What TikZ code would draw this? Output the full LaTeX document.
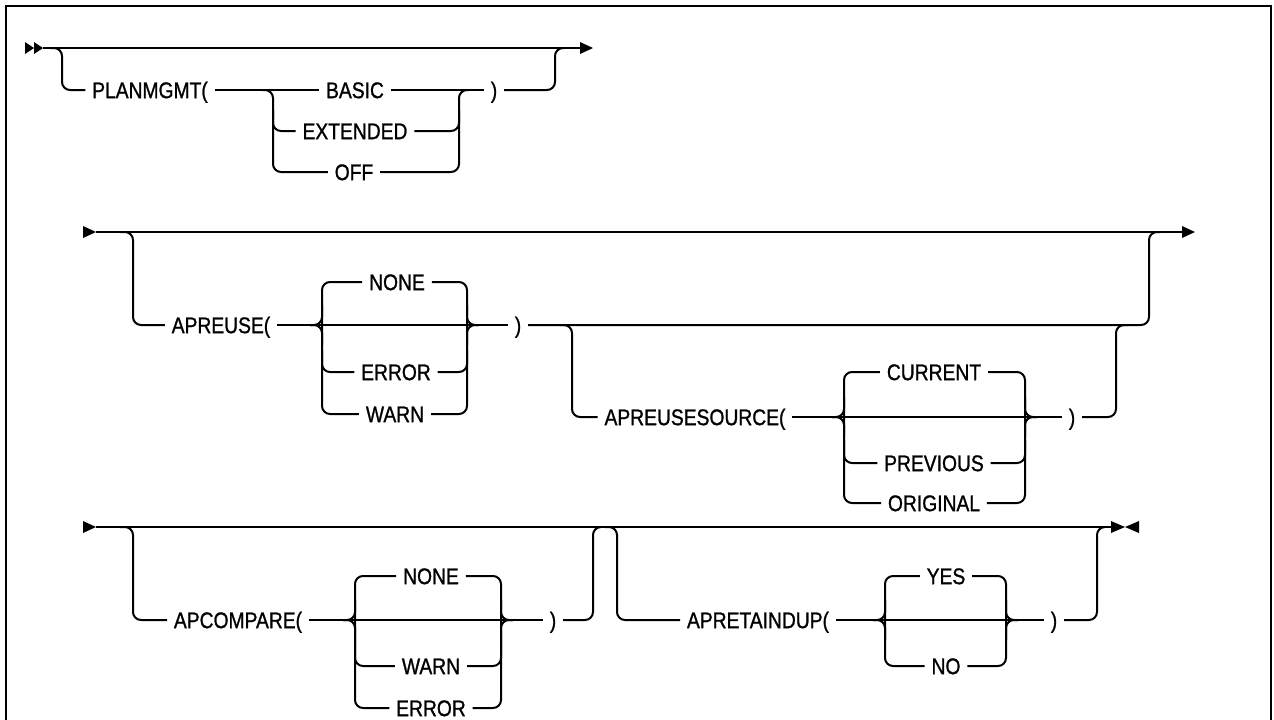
\documentclass[tikz,border=0pt]{standalone}
\usepackage{fontspec}
\setmainfont{Liberation Sans}[FakeStretch=0.85, FakeBold=1.0]
\begin{document}
\begin{tikzpicture}[x=0.75pt,y=-0.75pt,
  rail/.style={line width=1.5pt, rounded corners=6pt},
  lbl/.style={inner xsep=5pt, inner ysep=0pt, text height=12.2pt, text depth=0pt, font=\fontsize{17}{19}\selectfont},
  tipmark/.style={fill=black, draw=none}]
\useasboundingbox (0,0) rectangle (1274,719);
\draw[line width=2pt] (6,730) -- (6,6) -- (1271,6) -- (1271,730);

% ---------- Row 1 ----------
\coordinate (s1) at (43,48);
\coordinate (e1) at (580,48);
\fill[tipmark] (25,42) -- (34,48) -- (25,54) -- cycle;
\fill[tipmark] (34,42) -- (43,48) -- (34,54) -- cycle;
\draw[rail] (s1) -- (e1);
\fill[tipmark] (580,42) -- (593,48) -- (580,54) -- cycle;
\node[lbl] (pm) at (150,90) {PLANMGMT(};
\node[lbl] (basic) at (355,90) {BASIC};
\node[lbl] (ext) at (355,131) {EXTENDED};
\node[lbl] (off) at (354,172) {OFF};
\node[lbl] (rp1) at (494,90) {)};
\draw[rail] (50,48) -| (62,90) -- (pm.west);
\draw[rail] (pm.east) -- (basic.west);
\draw[rail] (basic.east) -- (rp1.west);
\draw[rail] (262,90) -| (273,150) |- (off.west);
\draw[rail] (273,110) |- (ext.west);
\draw[rail] (off.east) -| (459,90) -- (469,90);
\draw[rail] (ext.east) -| (459,110);
\draw[rail] (rp1.east) -| (555,48) -- (565,48);

% ---------- Row 2 ----------
\fill[tipmark] (83,226) -- (96,232) -- (83,238) -- cycle;
\coordinate (s2) at (96,232);
\coordinate (e2) at (1182,232);
\draw[rail] (s2) -- (e2);
\fill[tipmark] (1182,226) -- (1195,232) -- (1182,238) -- cycle;
\node[lbl] (apr) at (221,325) {APREUSE(};
\node[lbl] (n1) at (397,282) {NONE};
\node[lbl] (er1) at (396,372) {ERROR};
\node[lbl] (w1) at (395,414) {WARN};
\node[lbl] (rp2) at (518,325) {)};
\draw[rail] (120,232) -| (133,325) -- (apr.west);
\draw[rail] (apr.east) -- (rp2.west);
\draw[rail] (n1.west) -| (322,360) |- (w1.west);
\draw[rail] (322,350) |- (er1.west);
\draw[rail] (310,325) -| (322,305);
\draw[rail] (310,325) -| (322,345);
\draw[rail] (n1.east) -| (467,360) |- (w1.east);
\draw[rail] (er1.east) -| (467,350);
\draw[rail] (479,325) -| (467,305);
\draw[rail] (479,325) -| (467,345);
\draw[rail] (rp2.east) -| (1149,232) -- (1160,232);

\node[lbl] (aps) at (695,417) {APREUSESOURCE(};
\node[lbl] (cur) at (934,372) {CURRENT};
\node[lbl] (prev) at (934,463) {PREVIOUS};
\node[lbl] (orig) at (934,503) {ORIGINAL};
\node[lbl] (rp3) at (1072,417) {)};
\draw[rail] (560,325) -| (572,417) -- (aps.west);
\draw[rail] (aps.east) -- (rp3.west);
\draw[rail] (cur.west) -| (844,450) |- (orig.west);
\draw[rail] (844,440) |- (prev.west);
\draw[rail] (832,417) -| (844,397);
\draw[rail] (832,417) -| (844,437);
\draw[rail] (cur.east) -| (1025,450) |- (orig.east);
\draw[rail] (prev.east) -| (1025,440);
\draw[rail] (1037,417) -| (1025,397);
\draw[rail] (1037,417) -| (1025,437);
\draw[rail] (rp3.east) -| (1116,325) -- (1128,325);

% ---------- Row 3 ----------
\fill[tipmark] (83,521) -- (96,527) -- (83,533) -- cycle;
\coordinate (s3) at (96,527);
\coordinate (e3) at (1111,527);
\draw[rail] (s3) -- (e3);
\fill[tipmark] (1111,521) -- (1125,527) -- (1111,533) -- cycle;
\fill[tipmark] (1139,521) -- (1125,527) -- (1139,533) -- cycle;
\node[lbl] (apc) at (238,620) {APCOMPARE(};
\node[lbl] (n3) at (431,576) {NONE};
\node[lbl] (w3) at (431,666) {WARN};
\node[lbl] (er3) at (431,708) {ERROR};
\node[lbl] (rp4) at (553,620) {)};
\draw[rail] (120,527) -| (133,620) -- (apc.west);
\draw[rail] (apc.east) -- (rp4.west);
\draw[rail] (n3.west) -| (355,650) |- (er3.west);
\draw[rail] (355,640) |- (w3.west);
\draw[rail] (343,620) -| (355,600);
\draw[rail] (343,620) -| (355,640);
\draw[rail] (n3.east) -| (501,650) |- (er3.east);
\draw[rail] (w3.east) -| (501,640);
\draw[rail] (513,620) -| (501,600);
\draw[rail] (513,620) -| (501,640);
\draw[rail] (rp4.east) -| (593,527) -- (600,527);

\node[lbl] (aprt) at (758,620) {APRETAINDUP(};
\node[lbl] (yes) at (946,576) {YES};
\node[lbl] (no) at (946,666) {NO};
\node[lbl] (rp5) at (1054,620) {)};
\draw[rail] (605,527) -| (617,620) -- (aprt.west);
\draw[rail] (aprt.east) -- (rp5.west);
\draw[rail] (yes.west) -| (885,640) |- (no.west);
\draw[rail] (873,620) -| (885,600);
\draw[rail] (873,620) -| (885,640);
\draw[rail] (yes.east) -| (1006,640) |- (no.east);
\draw[rail] (1018,620) -| (1006,600);
\draw[rail] (1018,620) -| (1006,640);
\draw[rail] (rp5.east) -| (1097,527) -- (1105,527);
\end{tikzpicture}
\end{document}
